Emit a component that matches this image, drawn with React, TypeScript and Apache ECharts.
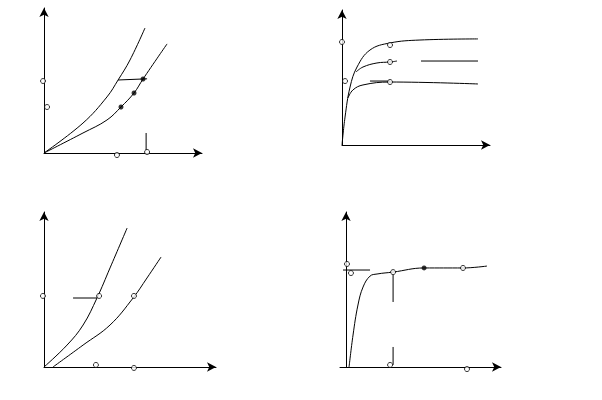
import React, { useEffect, useRef } from "react";
import * as echarts from "echarts";

// Panel 1 (top-left)
const p1Upper = [[0, 0], [24.2, 20.5], [39.1, 38.4], [46, 50], [53.4, 63.7], [62.7, 85.6]];
const p1Lower = [[0, 0], [24.2, 13.7], [39.1, 22.6], [47.8, 31.5], [55.9, 41.1], [61.5, 50.7], [76.4, 74.7]];
const p1Arrow = [[46, 50], [64, 50.8]];
const p1Tick = [[63.4, 13.7], [63.4, 2]];
const p1Filled = [[61.5, 50.7], [55.9, 41.1], [47.8, 31.5]];
const p1Open = [[-0.6, 49.3], [1.9, 31.5], [45.3, -1.4], [64, 0.7]];

// Panel 2 (top-right)
const p2Top = [[0, 0], [2, 20.1], [5.3, 41.7], [9.9, 56.1], [18.4, 68.3], [31.6, 73.4], [51.3, 75.5], [89.5, 76.3]];
const p2Mid = [[9.2, 52.5], [13.8, 56.1], [23, 59], [31.6, 59.7], [36.2, 60.4]];
const p2MidTail = [[52, 60.4], [89.5, 60.4]];
const p2Low = [[3.9, 33.8], [7.2, 39.6], [13.8, 43.2], [31.6, 45.3], [89.5, 43.9]];
const p2Seg = [[18.4, 46], [31.6, 46]];
const p2Open = [[0, 74.1], [2, 46], [31.6, 71.9], [31.6, 59.7], [31.6, 45.3]];

// Panel 3 (bottom-left)
const p3Upper = [[0, 0], [13.1, 13.8], [22.2, 26.4], [30.1, 43.4], [37.5, 62.3], [47.2, 87.4]];
const p3Lower = [[5.1, 0], [22.2, 13.8], [37.5, 26.4], [50.6, 43.4], [58.5, 56], [66.5, 69.2]];
const p3Seg = [[16.5, 43.4], [30.1, 43.4]];
const p3Open = [[-0.6, 44.7], [31.3, 44.7], [51.1, 44.7], [29.5, 1.3], [51.1, -0.6]];

// Panel 4 (bottom-right)
const p4Curve = [[1.9, 0], [4.4, 20.1], [7.5, 39], [10.7, 50.3], [15.1, 57.2], [19.5, 58.5], [29.6, 59.7], [49.1, 62.3], [73.6, 62.3], [88.7, 63.5]];
const p4Seg = [[-1.9, 61], [15.1, 61]];
const p4Vert1 = [[29.6, 57.9], [29.6, 40.9]];
const p4Vert2 = [[29.6, 12.6], [29.6, 1.3]];
const p4Filled = [[49.1, 62.3]];
const p4Open = [[0.6, 64.8], [3.1, 59.1], [29.6, 59.7], [73.6, 62.3], [27.7, 1.3], [76.1, -1.3]];

const grids = [
  { left: 44, top: 8, width: 158, height: 145 },
  { left: 342, top: 10, width: 148, height: 135 },
  { left: 44, top: 212, width: 172, height: 155 },
  { left: 340, top: 212, width: 161, height: 155 },
];
const xRanges = [[0, 98.1], [0, 97.4], [0, 97.7], [-3.8, 97.5]];
const yRanges = [[0, 99.3], [0, 97.1], [0, 97.5], [0, 97.5]];

function axis(i: number, r: number[]) {
  return {
    type: "value",
    gridIndex: i,
    min: r[0],
    max: r[1],
    axisLine: {
      show: true,
      onZero: true,
      symbol: ["none", "arrow"],
      symbolSize: [7, 9],
      lineStyle: { color: "#000", width: 1 },
    },
    axisTick: { show: false },
    axisLabel: { show: false },
    splitLine: { show: false },
  };
}

function curve(i: number, data: number[][], smooth: number | boolean) {
  return {
    type: "line",
    xAxisIndex: i,
    yAxisIndex: i,
    data,
    smooth,
    showSymbol: false,
    symbol: "none",
    clip: false,
    lineStyle: { color: "#000", width: 1 },
    z: 2,
  };
}

function dots(i: number, data: number[][], filled: boolean) {
  return {
    type: "scatter",
    xAxisIndex: i,
    yAxisIndex: i,
    data,
    symbol: "circle",
    symbolSize: filled ? 5 : 5,
    clip: false,
    itemStyle: filled
      ? { color: "#000" }
      : { color: "#fff", borderColor: "#000", borderWidth: 1 },
    z: 5,
  };
}

export default function App() {
  const ref = useRef<HTMLDivElement>(null);
  useEffect(() => {
    if (!ref.current) return;
    const chart = echarts.init(ref.current, null, { renderer: "svg" });
    chart.setOption({
      animation: false,
      backgroundColor: "#fff",
      grid: grids,
      xAxis: xRanges.map((r, i) => axis(i, r)),
      yAxis: yRanges.map((r, i) => axis(i, r)),
      series: [
        curve(0, p1Upper, 0.4),
        curve(0, p1Lower, 0.4),
        curve(0, p1Arrow, false),
        curve(0, p1Tick, false),
        dots(0, p1Filled, true),
        dots(0, p1Open, false),
        curve(1, p2Top, 0.4),
        curve(1, p2Mid, 0.4),
        curve(1, p2MidTail, false),
        curve(1, p2Low, 0.4),
        curve(1, p2Seg, false),
        dots(1, p2Open, false),
        curve(2, p3Upper, 0.4),
        curve(2, p3Lower, 0.4),
        curve(2, p3Seg, false),
        dots(2, p3Open, false),
        curve(3, p4Curve, 0.4),
        curve(3, p4Seg, false),
        curve(3, p4Vert1, false),
        curve(3, p4Vert2, false),
        dots(3, p4Filled, true),
        dots(3, p4Open, false),
      ],
    });
    return () => chart.dispose();
  }, []);
  return (
    <div
      ref={ref}
      style={{ position: "fixed", left: 0, top: 0, width: 602, height: 400, background: "#fff" }}
    />
  );
}
